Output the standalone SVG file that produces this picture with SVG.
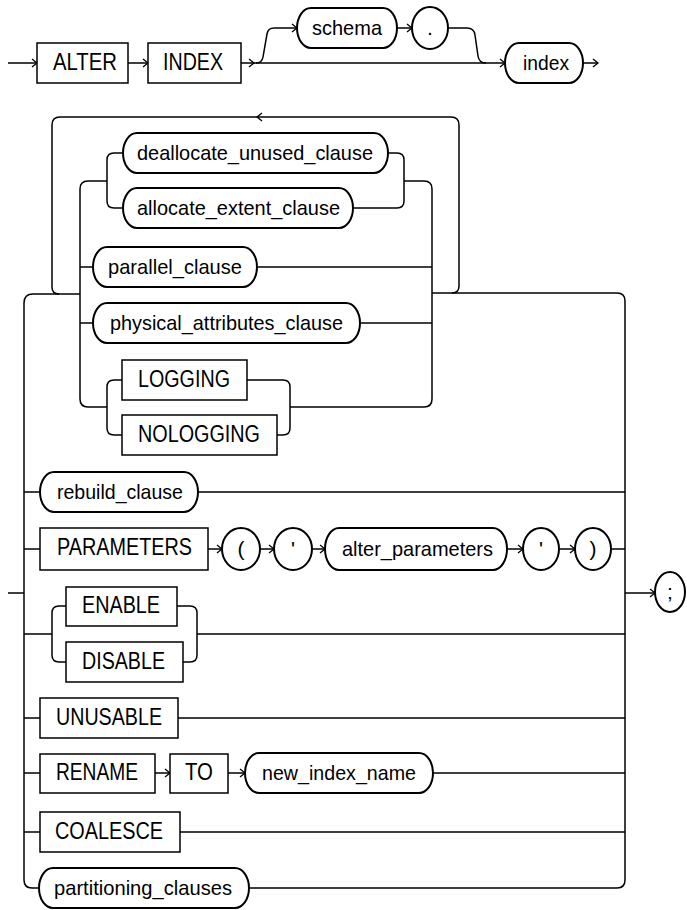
<svg xmlns="http://www.w3.org/2000/svg" width="687" height="910" viewBox="0 0 687 910">
<style>
  .ln{fill:none;stroke:#000;stroke-width:1.5}
  .ar{fill:none;stroke:#000;stroke-width:1.3}
  .bx{fill:#fff;stroke:#000;stroke-width:1.5}
  .ov{fill:#fff;stroke:#000;stroke-width:2}
  .kw{font-family:"Liberation Sans",Arial,sans-serif;font-size:23px;fill:#000}
  .nt{font-family:"Liberation Sans",Arial,sans-serif;font-size:21px;fill:#000}
  .c{text-anchor:middle}
</style>
<rect width="687" height="910" fill="#fff"/>
<g id="connectors">
  <path class="ln" d="M8 63 L37 63 M128 63 L148 63 M241 63 L505 63 M583 63 L598 63"/>
  <path class="ln" d="M256 63 Q262 63 263 57 L267 34 Q268 28 274 28 L297 28 M397 28 L412 28 M448 28 L467 28 Q474 28 475 35 L478 56 Q479 63 486 63"/>
  <path class="ln" d="M452 293 Q459 293 459 286 L459 125 Q459 117 451 117 L60 117 Q52 117 52 125 L52 287 Q52 294 59 294"/>
  <path class="ln" d="M80 294 L33 294 Q24 294 24 303 L24 880 Q24 888 32 888 L39 888 M8 593 L24 593"/>
  <path class="ln" d="M107 181 L88 181 Q80 181 80 189 L80 399 Q80 407 88 407 L107 407"/>
  <path class="ln" d="M123 153 L114 153 Q107 153 107 160 L107 201 Q107 208 114 208 L123 208"/>
  <path class="ln" d="M388 153 L397 153 Q404 153 404 160 L404 201 Q404 208 397 208 L353 208"/>
  <path class="ln" d="M404 181 L424 181 Q432 181 432 189 L432 399 Q432 407 424 407 L290 407"/>
  <path class="ln" d="M80 267 L93 267 M257 267 L432 267 M80 323 L93 323 M360 323 L432 323"/>
  <path class="ln" d="M122 380 L114 380 Q107 380 107 387 L107 428 Q107 435 114 435 L122 435"/>
  <path class="ln" d="M247 380 L283 380 Q290 380 290 387 L290 428 Q290 435 283 435 L277 435"/>
  <path class="ln" d="M432 293 L617 293 Q625 293 625 301 L625 880 Q625 888 617 888 L249 888"/>
  <path class="ln" d="M24 492 L40 492 M198 492 L625 492"/>
  <path class="ln" d="M24 549 L40 549 M208 549 L222 549 M260 549 L274 549 M312 549 L325 549 M507 549 L523 549 M559 549 L575 549 M611 549 L625 549"/>
  <path class="ln" d="M625 593 L655 593"/>
  <path class="ln" d="M24 634 L52 634 M66 606 L59 606 Q52 606 52 613 L52 655 Q52 662 59 662 L66 662 M177 606 L190 606 Q197 606 197 613 L197 655 Q197 662 190 662 L183 662 M197 634 L625 634"/>
  <path class="ln" d="M24 718 L40 718 M178 718 L625 718"/>
  <path class="ln" d="M24 773 L40 773 M155 773 L170 773 M228 773 L245 773 M433 773 L625 773"/>
  <path class="ln" d="M24 832 L40 832 M180 832 L625 832"/>
  <path class="ar" d="M32 59 L37 63 L32 67 M143 59 L148 63 L143 67 M249 59 L254 63 L249 67 M500 59 L505 63 L500 67 M593 59 L598 63 L593 67 M292 24 L297 28 L292 32 M407 24 L412 28 L407 32"/>
  <path class="ar" d="M262 113 L257 117 L262 121"/>
  <path class="ar" d="M217 545 L222 549 L217 553 M269 545 L274 549 L269 553 M320 545 L325 549 L320 553 M518 545 L523 549 L518 553 M570 545 L575 549 L570 553 M650 589 L655 593 L650 597"/>
  <path class="ar" d="M165 769 L170 773 L165 777 M240 769 L245 773 L240 777"/>
</g>
<g id="n_alter"><rect class="bx" x="37" y="43" width="91" height="40"/><text class="kw" x="53" y="70" textLength="64" lengthAdjust="spacingAndGlyphs">ALTER</text></g>
<g id="n_index_kw"><rect class="bx" x="148" y="43" width="93" height="40"/><text class="kw" x="163" y="70" textLength="60" lengthAdjust="spacingAndGlyphs">INDEX</text></g>
<g id="n_schema"><rect class="ov" x="297" y="8" width="100" height="40" rx="14" ry="20"/><text class="nt" x="312" y="35" textLength="70" lengthAdjust="spacingAndGlyphs">schema</text></g>
<g id="n_dot"><ellipse class="ov" cx="430" cy="28" rx="18" ry="21"/><text class="nt c" x="430" y="35">.</text></g>
<g id="n_index"><rect class="ov" x="505" y="43" width="78" height="40" rx="14" ry="20"/><text class="nt" x="523" y="70" textLength="46" lengthAdjust="spacingAndGlyphs">index</text></g>
<g id="n_dealloc"><rect class="ov" x="123" y="133" width="265" height="40" rx="14" ry="20"/><text class="nt" x="137" y="160" textLength="236" lengthAdjust="spacingAndGlyphs">deallocate_unused_clause</text></g>
<g id="n_alloc"><rect class="ov" x="123" y="188" width="230" height="40" rx="14" ry="20"/><text class="nt" x="137" y="215" textLength="203" lengthAdjust="spacingAndGlyphs">allocate_extent_clause</text></g>
<g id="n_parallel"><rect class="ov" x="93" y="247" width="164" height="40" rx="14" ry="20"/><text class="nt" x="108" y="274" textLength="134" lengthAdjust="spacingAndGlyphs">parallel_clause</text></g>
<g id="n_physical"><rect class="ov" x="93" y="303" width="267" height="40" rx="14" ry="20"/><text class="nt" x="110" y="330" textLength="233" lengthAdjust="spacingAndGlyphs">physical_attributes_clause</text></g>
<g id="n_logging"><rect class="bx" x="122" y="360" width="125" height="40"/><text class="kw" x="138" y="387" textLength="92" lengthAdjust="spacingAndGlyphs">LOGGING</text></g>
<g id="n_nologging"><rect class="bx" x="122" y="415" width="155" height="40"/><text class="kw" x="138" y="442" textLength="122" lengthAdjust="spacingAndGlyphs">NOLOGGING</text></g>
<g id="n_rebuild"><rect class="ov" x="40" y="472" width="158" height="40" rx="14" ry="20"/><text class="nt" x="57" y="499" textLength="126" lengthAdjust="spacingAndGlyphs">rebuild_clause</text></g>
<g id="n_parameters"><rect class="bx" x="40" y="528" width="168" height="42"/><text class="kw" x="57" y="555" textLength="135" lengthAdjust="spacingAndGlyphs">PARAMETERS</text></g>
<g id="n_lparen"><ellipse class="ov" cx="241" cy="549" rx="19" ry="21"/><text class="nt c" x="241" y="556">(</text></g>
<g id="n_quote1"><ellipse class="ov" cx="293" cy="549" rx="19" ry="21"/><text class="nt c" x="293" y="556">'</text></g>
<g id="n_alter_params"><rect class="ov" x="325" y="528" width="182" height="42" rx="14" ry="21"/><text class="nt" x="342" y="556" textLength="151" lengthAdjust="spacingAndGlyphs">alter_parameters</text></g>
<g id="n_quote2"><ellipse class="ov" cx="541" cy="549" rx="18" ry="21"/><text class="nt c" x="541" y="556">'</text></g>
<g id="n_rparen"><ellipse class="ov" cx="593" cy="549" rx="18" ry="21"/><text class="nt c" x="593" y="556">)</text></g>
<g id="n_semicolon"><ellipse class="ov" cx="670" cy="592" rx="15" ry="20"/><text class="nt c" x="670" y="599">;</text></g>
<g id="n_enable"><rect class="bx" x="66" y="587" width="111" height="39"/><text class="kw" x="82" y="613" textLength="78" lengthAdjust="spacingAndGlyphs">ENABLE</text></g>
<g id="n_disable"><rect class="bx" x="66" y="642" width="117" height="40"/><text class="kw" x="82" y="669" textLength="83" lengthAdjust="spacingAndGlyphs">DISABLE</text></g>
<g id="n_unusable"><rect class="bx" x="40" y="698" width="138" height="40"/><text class="kw" x="56" y="725" textLength="106" lengthAdjust="spacingAndGlyphs">UNUSABLE</text></g>
<g id="n_rename"><rect class="bx" x="40" y="754" width="115" height="39"/><text class="kw" x="56" y="780" textLength="82" lengthAdjust="spacingAndGlyphs">RENAME</text></g>
<g id="n_to"><rect class="bx" x="170" y="754" width="58" height="39"/><text class="kw" x="185" y="780" textLength="28" lengthAdjust="spacingAndGlyphs">TO</text></g>
<g id="n_new_index_name"><rect class="ov" x="245" y="753" width="188" height="40" rx="14" ry="20"/><text class="nt" x="262" y="780" textLength="154" lengthAdjust="spacingAndGlyphs">new_index_name</text></g>
<g id="n_coalesce"><rect class="bx" x="40" y="812" width="140" height="40"/><text class="kw" x="55" y="839" textLength="108" lengthAdjust="spacingAndGlyphs">COALESCE</text></g>
<g id="n_partitioning"><rect class="ov" x="39" y="868" width="210" height="40" rx="14" ry="20"/><text class="nt" x="54" y="895" textLength="178" lengthAdjust="spacingAndGlyphs">partitioning_clauses</text></g>
</svg>
